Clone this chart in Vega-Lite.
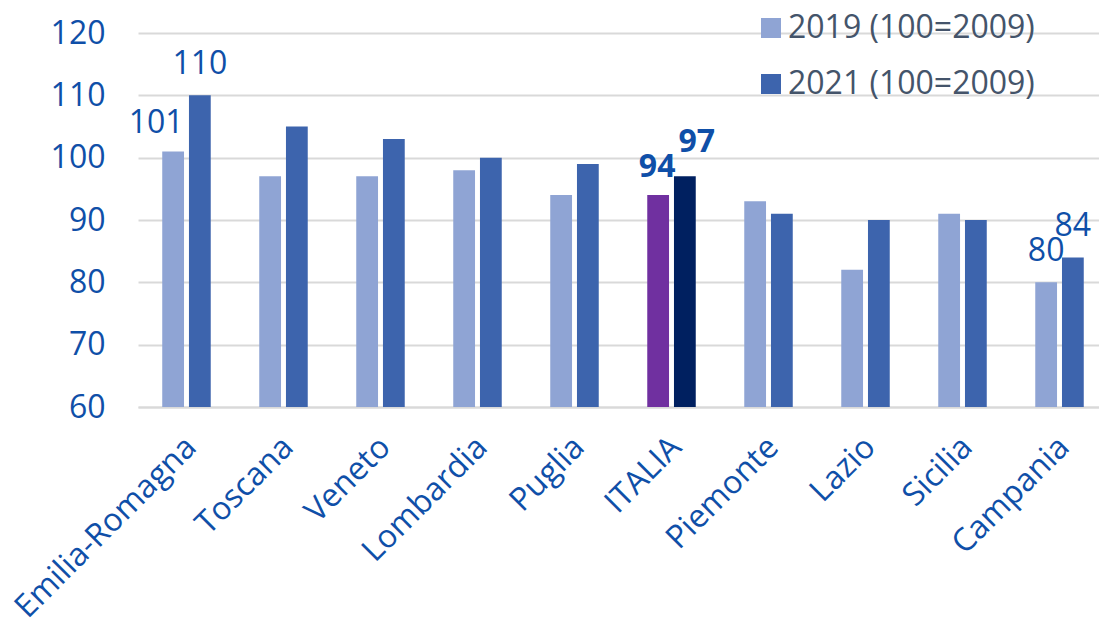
{
  "$schema": "https://vega.github.io/schema/vega-lite/v6.json",
  "width": 961,
  "height": 374,
  "autosize": {"type": "none"},
  "padding": {"left": 138, "top": 33, "right": 0, "bottom": 218},
  "background": "white",
  "config": {"font": "Open Sans", "view": {"stroke": null}},
  "data": {
    "values": [
      {"region": "Emilia-Romagna", "serie": "2019 (100=2009)", "value": 101},
      {"region": "Emilia-Romagna", "serie": "2021 (100=2009)", "value": 110},
      {"region": "Toscana", "serie": "2019 (100=2009)", "value": 97},
      {"region": "Toscana", "serie": "2021 (100=2009)", "value": 105},
      {"region": "Veneto", "serie": "2019 (100=2009)", "value": 97},
      {"region": "Veneto", "serie": "2021 (100=2009)", "value": 103},
      {"region": "Lombardia", "serie": "2019 (100=2009)", "value": 98},
      {"region": "Lombardia", "serie": "2021 (100=2009)", "value": 100},
      {"region": "Puglia", "serie": "2019 (100=2009)", "value": 94},
      {"region": "Puglia", "serie": "2021 (100=2009)", "value": 99},
      {"region": "ITALIA", "serie": "2019 (100=2009)", "value": 94},
      {"region": "ITALIA", "serie": "2021 (100=2009)", "value": 97},
      {"region": "Piemonte", "serie": "2019 (100=2009)", "value": 93},
      {"region": "Piemonte", "serie": "2021 (100=2009)", "value": 91},
      {"region": "Lazio", "serie": "2019 (100=2009)", "value": 82},
      {"region": "Lazio", "serie": "2021 (100=2009)", "value": 90},
      {"region": "Sicilia", "serie": "2019 (100=2009)", "value": 91},
      {"region": "Sicilia", "serie": "2021 (100=2009)", "value": 90},
      {"region": "Campania", "serie": "2019 (100=2009)", "value": 80},
      {"region": "Campania", "serie": "2021 (100=2009)", "value": 84}
    ]
  },
  "encoding": {
    "x": {
      "field": "region", "type": "nominal", "sort": null,
      "scale": {"paddingInner": 0.5, "paddingOuter": 0.2035, "align": 0.614},
      "axis": {
        "title": null, "ticks": false, "domain": true, "domainColor": "#D9D9D9", "domainWidth": 2,
        "labelAngle": -45, "labelFontSize": 32, "labelColor": "#0F4FA8", "labelPadding": 24,
        "labelOffset": -6, "labelFont": "Open Sans", "labelLimit": 500
      }
    },
    "xOffset": {"field": "serie", "type": "nominal", "scale": {"paddingInner": 0.185, "paddingOuter": 0}},
    "y": {
      "field": "value", "type": "quantitative",
      "scale": {"domain": [60, 120], "nice": false, "zero": false},
      "axis": {
        "title": null, "values": [60, 70, 80, 90, 100, 110, 120], "grid": true, "gridColor": "#D9D9D9", "gridWidth": 2,
        "domain": false, "ticks": false, "labelFontSize": 32, "labelColor": "#0F4FA8", "labelPadding": 33,
        "labelFont": "Open Sans"
      }
    }
  },
  "layer": [
    {
      "mark": {"type": "bar", "clip": true},
      "encoding": {
        "color": {
          "condition": [
            {"test": "datum.region === 'ITALIA' && datum.serie === '2019 (100=2009)'", "value": "#7030A0"},
            {"test": "datum.region === 'ITALIA'", "value": "#002060"}
          ],
          "field": "serie", "type": "nominal",
          "scale": {"domain": ["2019 (100=2009)", "2021 (100=2009)"], "range": ["#8FA4D4", "#3D64AD"]},
          "legend": {
            "title": null, "orient": "none", "legendX": 617, "legendY": -21,
            "symbolType": "square", "symbolSize": 400, "symbolStrokeWidth": 0,
            "labelFontSize": 32, "labelColor": "#44546A", "labelFont": "Open Sans",
            "rowPadding": 24, "labelOffset": 1, "labelLimit": 500
          }
        }
      }
    },
    {
      "transform": [{"filter": "(datum.region === 'Emilia-Romagna' && datum.serie === '2021 (100=2009)') || datum.region === 'Campania'"}],
      "mark": {"type": "text", "baseline": "alphabetic", "dy": -21, "fontSize": 32, "color": "#0F4FA8", "font": "Open Sans"},
      "encoding": {"text": {"field": "value", "type": "quantitative"}}
    },
    {
      "transform": [{"filter": "datum.region === 'Emilia-Romagna' && datum.serie === '2019 (100=2009)'"}],
      "mark": {"type": "text", "baseline": "alphabetic", "dx": -17, "dy": -18, "fontSize": 32, "color": "#0F4FA8", "font": "Open Sans"},
      "encoding": {"text": {"field": "value", "type": "quantitative"}}
    },
    {
      "transform": [{"filter": "datum.region === 'ITALIA' && datum.serie === '2019 (100=2009)'"}],
      "mark": {"type": "text", "baseline": "alphabetic", "dx": -1, "dy": -18, "fontSize": 32, "fontWeight": "bold", "color": "#0F4FA8", "font": "Open Sans"},
      "encoding": {"text": {"field": "value", "type": "quantitative"}}
    },
    {
      "transform": [{"filter": "datum.region === 'ITALIA' && datum.serie === '2021 (100=2009)'"}],
      "mark": {"type": "text", "baseline": "alphabetic", "dx": 12, "dy": -24, "fontSize": 32, "fontWeight": "bold", "color": "#0F4FA8", "font": "Open Sans"},
      "encoding": {"text": {"field": "value", "type": "quantitative"}}
    }
  ]
}
